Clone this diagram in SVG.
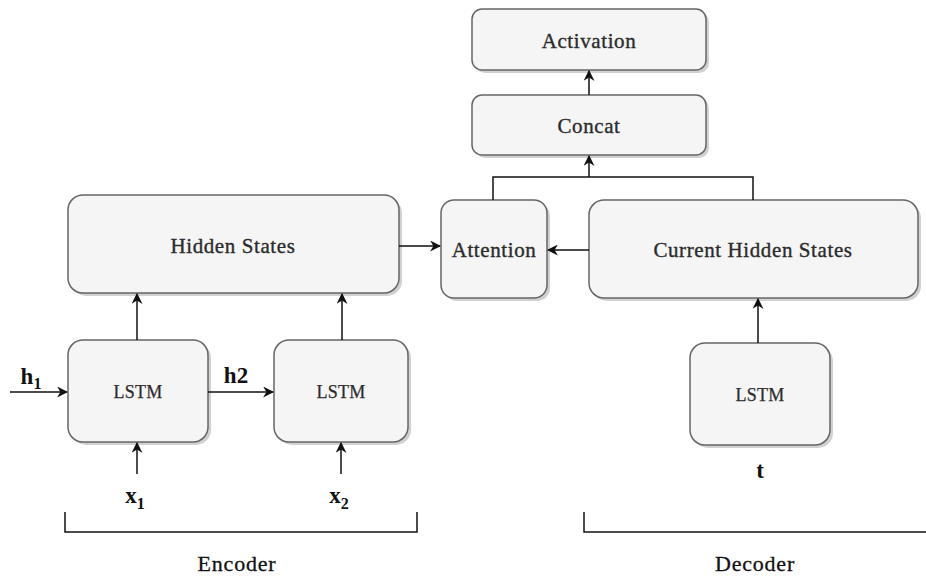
<svg xmlns="http://www.w3.org/2000/svg" width="926" height="576" viewBox="0 0 926 576">
<style>
.box{fill:#f5f5f5;stroke:#666666;stroke-width:1.5}
.sh{fill:#000;opacity:0.18}
text{font-family:"Liberation Serif","Times New Roman",serif;fill:#2b2b2b;text-anchor:middle}
.lbl{font-size:21px;letter-spacing:0.6px;stroke:#2b2b2b;stroke-width:0.35px}
.sm{font-size:18px;letter-spacing:0.2px;stroke:#2b2b2b;stroke-width:0.25px}
.io{font-size:23px;font-weight:bold;fill:#111}
.cap{font-size:22px;letter-spacing:0.8px;fill:#111;stroke:#111;stroke-width:0.3px}
.edge{fill:none;stroke:#111;stroke-width:1.5}
</style>
<defs>
<marker id="arr" viewBox="0 0 10 10" refX="9" refY="5" markerWidth="11" markerHeight="11" markerUnits="userSpaceOnUse" orient="auto">
<path d="M0,0 L10,5 L0,10 L3,5 Z" fill="#111"/>
</marker>
</defs>
<g id="hidden-states">
<rect class="sh" x="71" y="198" width="331" height="98" rx="15"/>
<rect class="box" x="68" y="195" width="331" height="98" rx="15"/>
<text class="lbl" x="233" y="253">Hidden States</text>
</g>
<g id="attention">
<rect class="sh" x="444" y="203" width="106" height="98" rx="13"/>
<rect class="box" x="441" y="200" width="106" height="98" rx="13"/>
<text class="lbl" x="494" y="257">Attention</text>
</g>
<g id="current-hidden-states">
<rect class="sh" x="592" y="203" width="329" height="98" rx="15"/>
<rect class="box" x="589" y="200" width="329" height="98" rx="15"/>
<text class="lbl" x="753" y="257">Current Hidden States</text>
</g>
<g id="activation">
<rect class="sh" x="475" y="12" width="234" height="61" rx="10"/>
<rect class="box" x="472" y="9" width="234" height="61" rx="10"/>
<text class="lbl" x="589" y="48">Activation</text>
</g>
<g id="concat">
<rect class="sh" x="475" y="98" width="234" height="60" rx="10"/>
<rect class="box" x="472" y="95" width="234" height="60" rx="10"/>
<text class="lbl" x="589" y="133">Concat</text>
</g>
<g id="lstm1">
<rect class="sh" x="71" y="343" width="140" height="102" rx="15"/>
<rect class="box" x="68" y="340" width="140" height="102" rx="15"/>
<text class="sm" x="138" y="398">LSTM</text>
</g>
<g id="lstm2">
<rect class="sh" x="277" y="343" width="134" height="102" rx="15"/>
<rect class="box" x="274" y="340" width="134" height="102" rx="15"/>
<text class="sm" x="341" y="398">LSTM</text>
</g>
<g id="lstm3">
<rect class="sh" x="693" y="346" width="140" height="102" rx="15"/>
<rect class="box" x="690" y="343" width="140" height="102" rx="15"/>
<text class="sm" x="760" y="401">LSTM</text>
</g>
<g id="connectors">
<path class="edge" d="M399,246 L440,246" marker-end="url(#arr)"/>
<path class="edge" d="M589,250 L548,250" marker-end="url(#arr)"/>
<path class="edge" d="M589,95 L589,71" marker-end="url(#arr)"/>
<path class="edge" d="M493,200 L493,177 L753,177 L753,200"/>
<path class="edge" d="M589,177 L589,156" marker-end="url(#arr)"/>
<path class="edge" d="M137,340 L137,294" marker-end="url(#arr)"/>
<path class="edge" d="M342,340 L342,294" marker-end="url(#arr)"/>
<path class="edge" d="M758,343 L758,299" marker-end="url(#arr)"/>
<path class="edge" d="M10,392 L67,392" marker-end="url(#arr)"/>
<path class="edge" d="M208,392 L273,392" marker-end="url(#arr)"/>
<path class="edge" d="M137,474 L137,443" marker-end="url(#arr)"/>
<path class="edge" d="M341,474 L341,443" marker-end="url(#arr)"/>
<path class="edge" d="M65,512 L65,532 L417,532 L417,512" stroke-width="2"/>
<path class="edge" d="M584,512 L584,532 L926,532" stroke-width="2"/>
</g>
<g id="labels">
<text class="io" x="31" y="384">h<tspan font-size="16" dy="5">1</tspan></text>
<text class="io" x="236" y="383">h2</text>
<text class="io" x="135" y="503">x<tspan font-size="16" dy="6">1</tspan></text>
<text class="io" x="339" y="503">x<tspan font-size="16" dy="6">2</tspan></text>
<text class="io" x="760" y="478">t</text>
<text class="cap" x="237" y="571">Encoder</text>
<text class="cap" x="755" y="571">Decoder</text>
</g>
</svg>
